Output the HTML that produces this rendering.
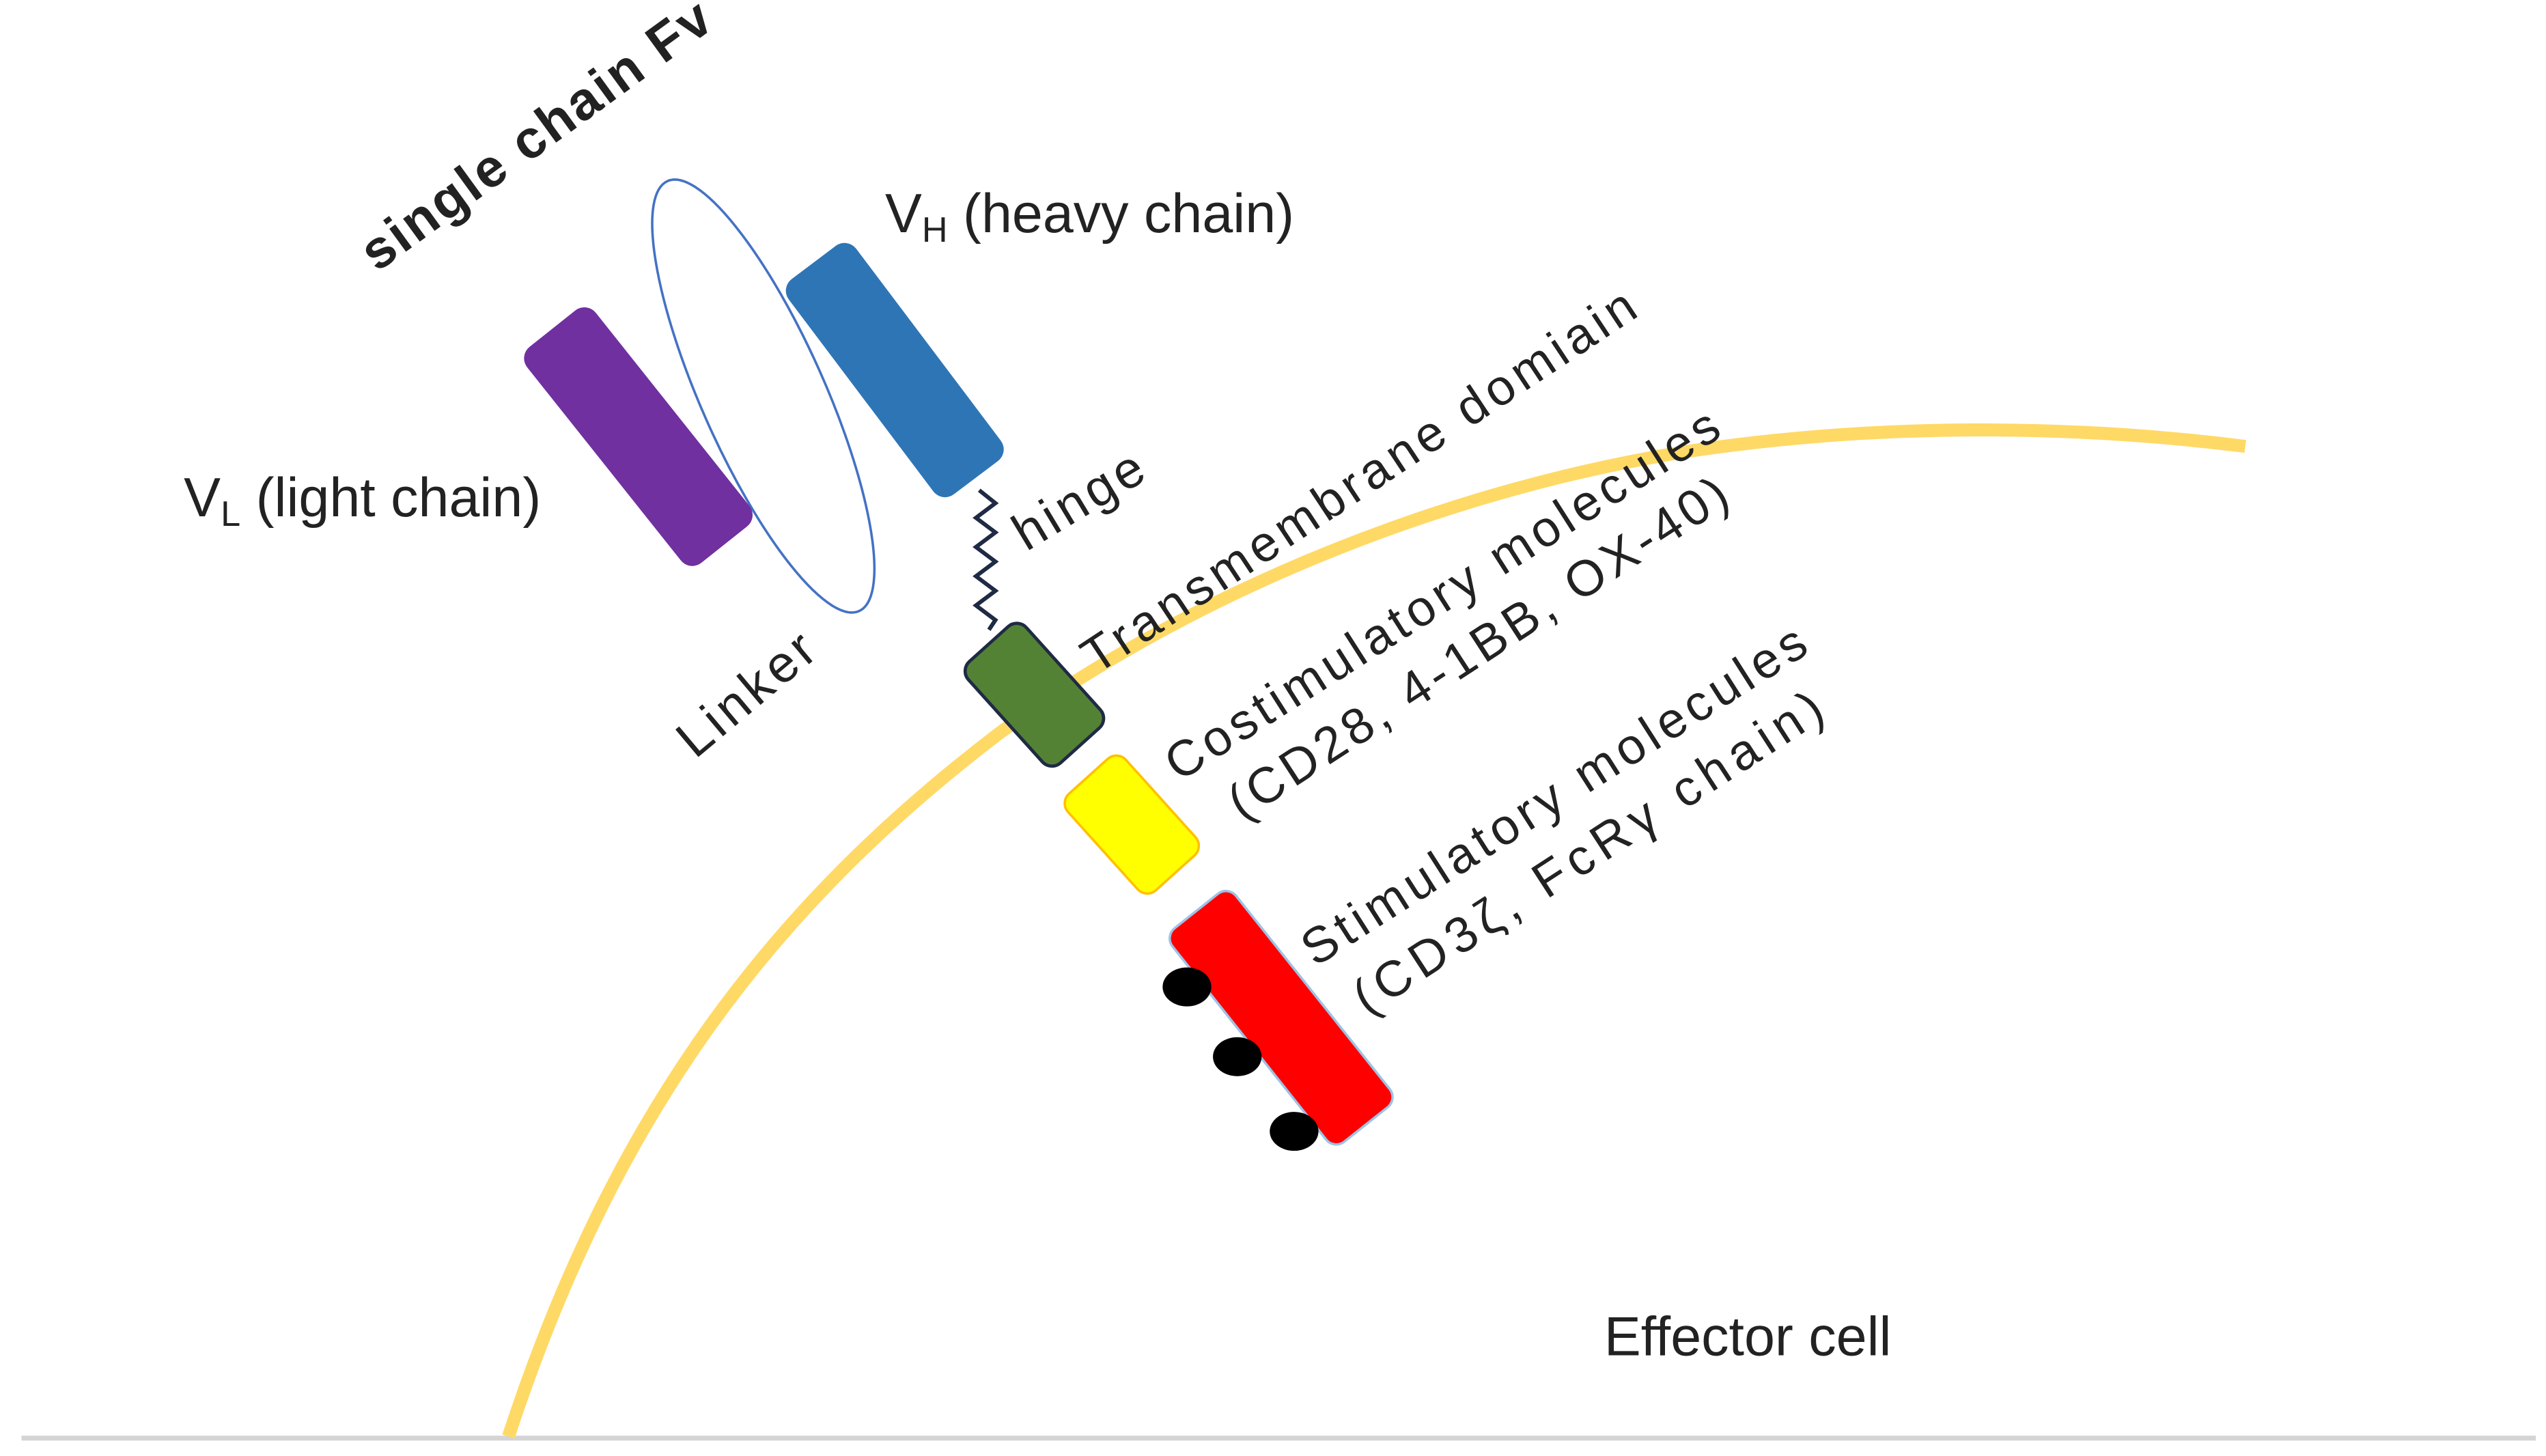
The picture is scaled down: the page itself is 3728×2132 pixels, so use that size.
<!DOCTYPE html>
<html><head><meta charset="utf-8"><style>
html,body{margin:0;padding:0;background:#fff;}
svg{display:block;}
text{font-family:"Liberation Sans","DejaVu Sans",sans-serif;fill:#222;}
</style></head><body>
<svg width="3728" height="2132" viewBox="0 0 1568 897" xmlns="http://www.w3.org/2000/svg">
<rect width="1568" height="897" fill="#fff"/>
<line x1="13" y1="886" x2="1562" y2="886" stroke="#d4d4d4" stroke-width="3"/>
<path d="M313,885 C380,680 480,555 615,452 C740,360 900,300 1040,278 C1160,260 1280,262 1383,275" fill="none" stroke="#FFD966" stroke-width="8"/>
<ellipse cx="470" cy="244" rx="145" ry="38" transform="rotate(66 470 244)" fill="none" stroke="#4472C4" stroke-width="1.5"/>
<path d="M603,302 l10,8 l-12,9 l12,9 l-12,9 l12,9 l-12,9 l12,9 l-12,9 l12,9 l-4,6" fill="none" stroke="#1f2a44" stroke-width="2.5"/>
<g transform="translate(393,269) rotate(-38.5)"><rect x="-27" y="-85" width="54" height="170" rx="9" fill="#7030A0"/></g>
<g transform="translate(551,228) rotate(-37)"><rect x="-26" y="-83" width="52" height="166" rx="9" fill="#2E75B6"/></g>
<g transform="translate(637,428) rotate(-42)"><rect x="-24" y="-42" width="48" height="84" rx="8" fill="#548235" stroke="#1f2a44" stroke-width="2"/></g>
<g transform="translate(697,508) rotate(-42)"><rect x="-24" y="-40" width="48" height="80" rx="8" fill="#FFFF00" stroke="#FFC000" stroke-width="1.5"/></g>
<g transform="translate(789,627) rotate(-38.5)"><rect x="-25" y="-84" width="50" height="168" rx="8" fill="#FF0000" stroke="#9DC3E6" stroke-width="1.5"/></g>
<ellipse cx="731" cy="608" rx="15" ry="12" fill="#000"/>
<ellipse cx="762" cy="651" rx="15" ry="12" fill="#000"/>
<ellipse cx="797" cy="697" rx="15" ry="12" fill="#000"/>
<text transform="translate(232,168) rotate(-36)" font-size="33" font-weight="bold" textLength="258" fill="#000">single chain Fv</text>
<text x="545" y="143" font-size="34">V<tspan font-size="22" dy="6">H</tspan><tspan dy="-6"> (heavy chain)</tspan></text>
<text x="113" y="318" font-size="34">V<tspan font-size="22" dy="6">L</tspan><tspan dy="-6"> (light chain)</tspan></text>
<text transform="translate(632,340) rotate(-31)" font-size="32" textLength="88">hinge</text>
<text transform="translate(428,468) rotate(-40)" font-size="32" textLength="100">Linker</text>
<text transform="translate(675,416) rotate(-33.5)" font-size="31" textLength="402">Transmembrane domiain</text>
<text transform="translate(726,482) rotate(-32.5)" font-size="31" textLength="398">Costimulatory molecules</text>
<text transform="translate(765,506) rotate(-33)" font-size="31" textLength="360">(CD28, 4-1BB, OX-40)</text>
<text transform="translate(810,596) rotate(-32.5)" font-size="31" textLength="362">Stimulatory molecules</text>
<text transform="translate(842,626) rotate(-33)" font-size="31" textLength="338">(CD3ζ, FcRγ chain)</text>
<text x="988" y="835" font-size="34">Effector cell</text>
</svg>
</body></html>
